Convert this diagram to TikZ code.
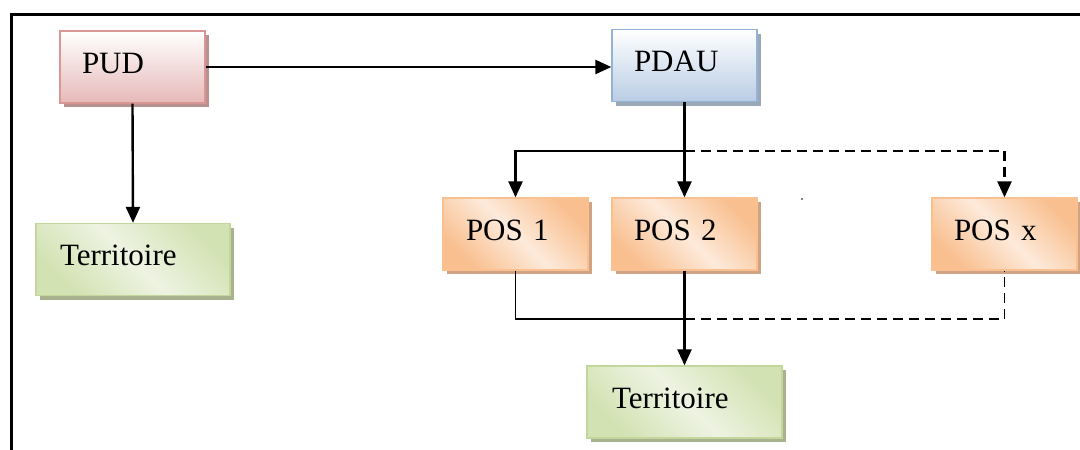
\documentclass[tikz,border=0pt]{standalone}
\usepackage{fontspec}
\setmainfont{Liberation Serif}
\usetikzlibrary{arrows.meta,shadows}
\definecolor{pinkB}{HTML}{D99694}
\definecolor{pinkF}{HTML}{E6B9B8}
\definecolor{pinkS}{HTML}{B89090}
\definecolor{blueB}{HTML}{95B3D7}
\definecolor{blueF}{HTML}{B9CDE5}
\definecolor{blueS}{HTML}{9BA8B8}
\definecolor{oranB}{HTML}{FAC090}
\definecolor{oranF}{HTML}{F9BF8F}
\definecolor{oranL}{HTML}{FDEADA}
\definecolor{oranS}{HTML}{CFA384}
\definecolor{grnB}{HTML}{C3D69B}
\definecolor{grnF}{HTML}{D2E2B2}
\definecolor{grnL}{HTML}{EEF3E2}
\definecolor{grnS}{HTML}{A9B28F}
\tikzset{
  box/.style={draw, line width=1.3pt, minimum height=72pt, align=left,
    inner xsep=22pt, text height=21pt, text depth=9pt,
    font=\fontsize{31}{36}\selectfont},
  pinkbox/.style={box, draw=pinkB, top color=white, bottom color=pinkF,
    drop shadow={shadow xshift=4pt, shadow yshift=-4pt, fill=pinkS, opacity=1}},
  bluebox/.style={box, draw=blueB, top color=white, bottom color=blueF,
    drop shadow={shadow xshift=4pt, shadow yshift=-4pt, fill=blueS, opacity=1}},
  posbox/.style={box, draw=oranB, left color=oranF, right color=oranF, middle color=oranL, shading angle=135,
    drop shadow={shadow xshift=4pt, shadow yshift=-4pt, fill=oranS, opacity=1}},
  terrbox/.style={box, draw=grnB, left color=grnF, right color=grnF, middle color=grnL, shading angle=135,
    drop shadow={shadow xshift=4pt, shadow yshift=-4pt, fill=grnS, opacity=1}},
  link/.style={line width=2.4pt},
  thinlink/.style={line width=1.6pt},
  arr/.style={-{Triangle[width=14pt,length=16pt]}},
  dashline/.style={dash pattern=on 10pt off 6pt},
}
\begin{document}
\begin{tikzpicture}[x=1pt,y=-1pt]
\useasboundingbox (0,0) rectangle (1080,450);
% frame (top and left only)
\draw[line width=3pt] (11,450) -- (11,14) -- (1080,14);
% boxes
\node[pinkbox, text width=101pt] (pud) at (132.5,67) {PUD};
\node[bluebox, text width=101pt] (pdau) at (684.5,65.5) {PDAU};
\node[terrbox, text width=146pt, inner xsep=24pt] (terr1) at (133,259.5) {Territoire};
\node[posbox, text width=99pt, inner xsep=23pt] (pos1) at (515.5,234) {POS 1};
\node[posbox, text width=101pt] (pos2) at (684.5,234) {POS 2};
\node[posbox, text width=101pt] (posx) at (1004.5,234) {POS x};
\node[terrbox, text width=145pt, inner xsep=25pt] (terr2) at (684.5,402) {Territoire};
% stray dot
\fill (802,199) circle (0.9pt);
% connectors
\coordinate (j1) at (684.5,151);
\coordinate (j2) at (684.5,319);
\draw[link, arr] (pud.east) -- (pud.east -| pdau.west);
\draw[link, arr] (pud.south) -- (terr1.north);
\draw[link, arr] (pdau.south) -- (pos2.north);
\draw[link, arr] (j1) -| (pos1.north);
\draw[link, arr, dashline] (j1) -| (posx.north);
\draw[thinlink] (pos1.south) |- (j2);
\draw[thinlink, dashline] (j2) -| (posx.south);
\draw[link, arr] (pos2.south) -- (terr2.north);
\end{tikzpicture}
\end{document}
